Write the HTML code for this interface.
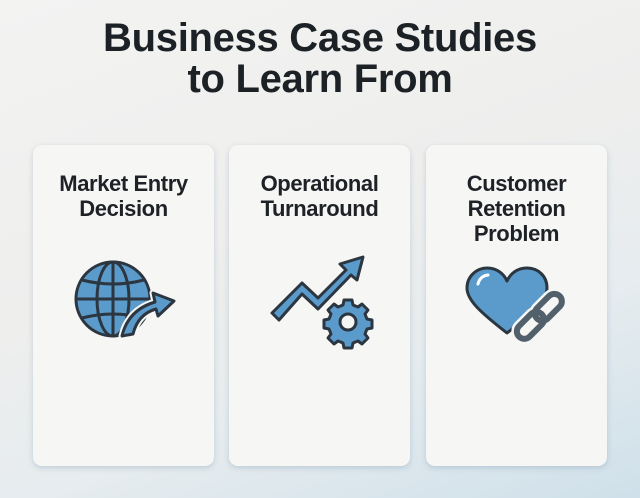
<!DOCTYPE html>
<html><head><meta charset="utf-8"><style>
html,body{margin:0;padding:0}
body{width:640px;height:498px;overflow:hidden;position:relative;font-family:"Liberation Sans",sans-serif;
background:linear-gradient(160deg,#f3f3f2 0%,#eeeeed 45%,#e6ecef 70%,#cfe0ea 100%);}
.t{position:absolute;left:0;width:640px;text-align:center;font-weight:bold;font-size:40px;color:#1c2126;letter-spacing:-0.3px;line-height:40px}
.card{position:absolute;top:145px;width:181px;height:321px;background:#f6f6f5;border-radius:9px;box-shadow:0 2px 6px rgba(120,150,170,.35)}
.h{position:absolute;top:26px;left:0;width:100%;text-align:center;font-weight:bold;font-size:22px;line-height:25px;color:#1e2226;letter-spacing:-0.4px}
svg{position:absolute;left:0;top:0}
</style></head><body>
<div class="t" style="top:18px">Business Case Studies</div>
<div class="t" style="top:59px">to Learn From</div>
<div class="card" style="left:33px"><div class="h">Market Entry<br>Decision</div></div>
<div class="card" style="left:229px"><div class="h">Operational<br>Turnaround</div></div>
<div class="card" style="left:426px"><div class="h">Customer<br>Retention<br>Problem</div></div>
<svg width="640" height="498" viewBox="0 0 640 498">
<g stroke="#2b3640" stroke-width="3" fill="none" stroke-linejoin="round" stroke-linecap="round">
 <circle cx="113" cy="299" r="37" fill="#5b9bcb"/>
 <ellipse cx="113" cy="299" rx="16" ry="37"/>
 <line x1="113" y1="262" x2="113" y2="336"/>
 <line x1="76" y1="299" x2="150" y2="299"/>
 <path d="M82 280 Q113 288 144 280 M82 318 Q113 310 144 318"/>
 <path d="M122 336 Q128 310 155 302 L153 293 L174 301 L158 316 L156 309 Q138 314 133 334 Z" fill="#5b9bcb" stroke="#f6f6f5" stroke-width="7"/>
 <path d="M122 336 Q128 310 155 302 L153 293 L174 301 L158 316 L156 309 Q138 314 133 334 Z" fill="#5b9bcb"/>
 <path d="M272 313 L302 283 L318 298 L346 270 L340 264 L363 257 L357 280 L351 275 L318 309 L302 294 L279 320 Z" fill="#5b9bcb"/>
 <path d="M348 300 l4 0 l1 5 l5 2 l4 -3 l6 6 l-3 4 l2 5 l5 1 l0 8 l-5 1 l-2 5 l3 4 l-6 6 l-4 -3 l-5 2 l-1 5 l-8 0 l-1 -5 l-5 -2 l-4 3 l-6 -6 l3 -4 l-2 -5 l-5 -1 l0 -8 l5 -1 l2 -5 l-3 -4 l6 -6 l4 3 l5 -2 l1 -5 Z" fill="#5b9bcb"/>
 <circle cx="348" cy="322" r="8" fill="#f6f6f5"/>
 <path d="M507 333 C480 312 467 300 467 288 C467 276 477 268 487 268 C497 268 504 274 507 281 C510 274 517 268 527 268 C538 268 547 276 547 288 C547 300 534 312 507 333 Z" fill="#5b9bcb"/>
 <path d="M478 284 Q480 276 488 275" stroke="#fff" stroke-width="3"/>
 <g stroke="#f6f6f5" stroke-width="11"><rect x="532" y="300" width="32" height="15" rx="7.5" transform="rotate(-45 548 307)"/><rect x="514" y="318" width="32" height="15" rx="7.5" transform="rotate(-45 530 325)"/></g>
 <g stroke="#52606c" stroke-width="6"><rect x="532" y="300" width="32" height="15" rx="7.5" transform="rotate(-45 548 307)"/><rect x="514" y="318" width="32" height="15" rx="7.5" transform="rotate(-45 530 325)"/></g>
</g>
</svg>
</body></html>
